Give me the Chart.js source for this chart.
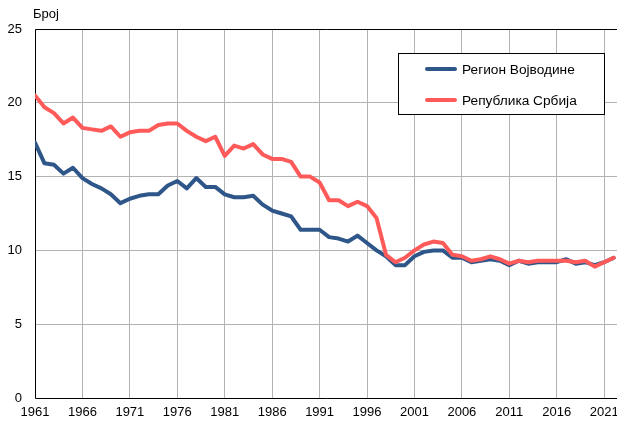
<!DOCTYPE html>
<html>
<head>
<meta charset="utf-8">
<script src="https://cdn.jsdelivr.net/npm/chart.js@4"></script>
<style>
  html, body { margin: 0; padding: 0; background: #fff; }
  #wrap { width: 617px; height: 421px; position: relative; }
</style>
</head>
<body>
<div id="wrap"><canvas id="chart" width="617" height="421"></canvas></div>
<script>
const years = [1961, 1962, 1963, 1964, 1965, 1966, 1967, 1968, 1969, 1970,
  1971, 1972, 1973, 1974, 1975, 1976, 1977, 1978, 1979, 1980,
  1981, 1982, 1983, 1984, 1985, 1986, 1987, 1988, 1989, 1990,
  1991, 1992, 1993, 1994, 1995, 1996, 1997, 1998, 1999, 2000,
  2001, 2002, 2003, 2004, 2005, 2006, 2007, 2008, 2009, 2010,
  2011, 2012, 2013, 2014, 2015, 2016, 2017, 2018, 2019, 2020,
  2021, 2022];

// Регион Војводине
const vojvodina = [17.3, 15.9, 15.8, 15.2, 15.6, 14.9, 14.5, 14.2, 13.8, 13.2,
  13.5, 13.7, 13.8, 13.8, 14.4, 14.7, 14.2, 14.9, 14.3, 14.3,
  13.8, 13.6, 13.6, 13.7, 13.1, 12.7, 12.5, 12.3, 11.4, 11.4,
  11.4, 10.9, 10.8, 10.6, 11.0, 10.5, 10.0, 9.6, 9.0, 9.0,
  9.6, 9.9, 10.0, 10.0, 9.5, 9.5, 9.2, 9.3, 9.4, 9.3,
  9.0, 9.3, 9.1, 9.2, 9.2, 9.2, 9.4, 9.1, 9.2, 9.0,
  9.2, 9.5];

// Република Србија
const srbija = [20.5, 19.7, 19.3, 18.6, 19.0, 18.3, 18.2, 18.1, 18.4, 17.7,
  18.0, 18.1, 18.1, 18.5, 18.6, 18.6, 18.1, 17.7, 17.4, 17.7,
  16.4, 17.1, 16.9, 17.2, 16.5, 16.2, 16.2, 16.0, 15.0, 15.0,
  14.6, 13.4, 13.4, 13.0, 13.3, 13.0, 12.2, 9.7, 9.2, 9.5,
  10.0, 10.4, 10.6, 10.5, 9.7, 9.6, 9.3, 9.4, 9.6, 9.4,
  9.1, 9.3, 9.2, 9.3, 9.3, 9.3, 9.3, 9.2, 9.3, 8.9,
  9.2, 9.5];

const xTicks = [1961, 1966, 1971, 1976, 1981, 1986, 1991, 1996, 2001, 2006, 2011, 2016, 2021];
const yTicks = [0, 5, 10, 15, 20, 25];

const seriesNames = ['Регион Војводине', 'Република Србија'];
const seriesColors = ['#2F5689', '#FF5A5A'];

const FONT = '"Liberation Sans", Arial, sans-serif';

// frame, unit label and the boxed legend
const framePlugin = {
  id: 'frame',
  beforeDatasetsDraw(chart) {
    const { ctx, chartArea: a } = chart;
    ctx.save();
    ctx.strokeStyle = '#000';
    ctx.lineWidth = 1;
    ctx.beginPath();
    ctx.moveTo(a.right + 5, a.top + 0.5);
    ctx.lineTo(a.left + 0.5, a.top + 0.5);
    ctx.lineTo(a.left + 0.5, a.bottom + 0.5);
    ctx.lineTo(a.right + 5, a.bottom + 0.5);
    ctx.stroke();
    ctx.restore();
  },
  afterDraw(chart) {
    const { ctx, chartArea: a } = chart;
    ctx.save();
    ctx.fillStyle = '#000';
    ctx.font = '13px ' + FONT;
    ctx.textBaseline = 'alphabetic';
    ctx.fillText('Број', a.left - 2, 18);

    // legend
    const bx = 398.5, by = 53.5, bw = 206, bh = 61;
    ctx.fillStyle = '#fff';
    ctx.fillRect(bx, by, bw, bh);
    ctx.strokeStyle = '#000';
    ctx.lineWidth = 1;
    ctx.strokeRect(bx, by, bw, bh);
    ctx.font = '13.7px ' + FONT;
    const rows = [69, 100];
    chart.data.datasets.forEach((ds, i) => {
      const y = rows[i];
      ctx.strokeStyle = ds.borderColor;
      ctx.lineWidth = 4;
      ctx.lineCap = 'round';
      ctx.beginPath();
      ctx.moveTo(427, y);
      ctx.lineTo(455, y);
      ctx.stroke();
      ctx.fillStyle = '#000';
      ctx.textBaseline = 'middle';
      ctx.fillText(ds.label, 462, y + 1);
    });
    ctx.restore();
  }
};

new Chart(document.getElementById('chart').getContext('2d'), {
  type: 'line',
  data: {
    datasets: [
      {
        label: seriesNames[0],
        data: years.map((y, i) => ({ x: y, y: vojvodina[i] })),
        borderColor: seriesColors[0],
        borderWidth: 4,
        order: 1
      },
      {
        label: seriesNames[1],
        data: years.map((y, i) => ({ x: y, y: srbija[i] })),
        borderColor: seriesColors[1],
        borderWidth: 4,
        order: 0
      }
    ]
  },
  options: {
    responsive: false,
    animation: false,
    devicePixelRatio: 1,
    layout: { padding: { top: 29, right: 0, left: 0, bottom: 0 } },
    elements: {
      point: { radius: 0 },
      line: { tension: 0, borderJoinStyle: 'round', borderCapStyle: 'round' }
    },
    plugins: {
      legend: { display: false },
      tooltip: { enabled: false },
      title: { display: false }
    },
    scales: {
      x: {
        type: 'linear',
        min: 1961,
        max: 2022.35,
        afterBuildTicks: s => { s.ticks = xTicks.map(v => ({ value: v })); },
        afterFit: s => { s.height = 23; s.paddingLeft = 0; s.paddingRight = 0; },
        grid: { color: '#b3b3b3', lineWidth: 1, drawTicks: false },
        border: { display: false },
        ticks: {
          color: '#000',
          font: { family: FONT, size: 13 },
          padding: 7,
          maxRotation: 0,
          autoSkip: false,
          callback: v => String(v)
        }
      },
      y: {
        min: 0,
        max: 25,
        afterBuildTicks: s => { s.ticks = yTicks.map(v => ({ value: v })); },
        afterFit: s => { s.width = 35; s.paddingTop = 0; s.paddingBottom = 0; },
        grid: {
          color: ctx => (ctx.tick && (ctx.tick.value === 0 || ctx.tick.value === 25)) ? 'rgba(0,0,0,0)' : '#b3b3b3',
          lineWidth: 1,
          drawTicks: false
        },
        border: { display: false },
        ticks: {
          color: '#000',
          font: { family: FONT, size: 13 },
          padding: 13
        }
      }
    }
  },
  plugins: [framePlugin]
});
</script>
</body>
</html>
